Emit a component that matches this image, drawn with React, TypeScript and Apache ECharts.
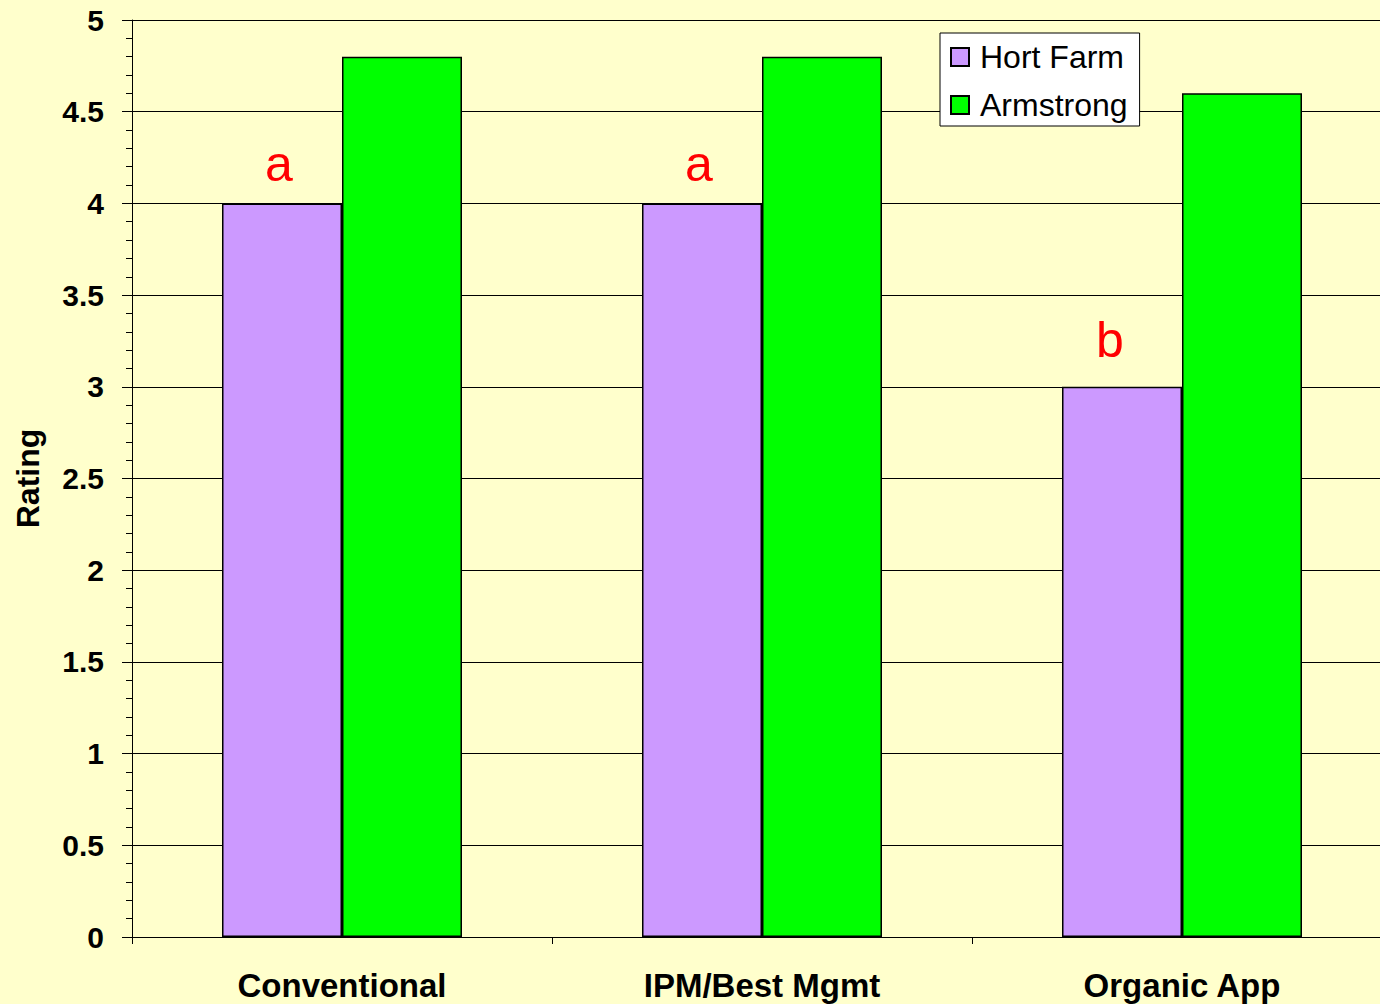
import React, { useEffect, useRef } from "react";
import * as echarts from "echarts";

const categories = ["Conventional", "IPM/Best Mgmt", "Organic App"];
const hortFarm = [4, 4, 3];
const armstrong = [4.8, 4.8, 4.6];
const hortLetters = ["a", "a", "b"];
const yTicks = [0, 0.5, 1, 1.5, 2, 2.5, 3, 3.5, 4, 4.5, 5];

const FONT = "'Liberation Sans', Arial, sans-serif";

export default function App() {
  const ref = useRef<HTMLDivElement>(null);
  useEffect(() => {
    document.body.style.margin = "0";
    const chart = echarts.init(ref.current!, null, { renderer: "svg" });
    chart.setOption({
      animation: false,
      backgroundColor: "#FFFFCC",
      textStyle: { fontFamily: FONT },
      grid: { left: 132, top: 20, bottom: 67, right: 0, containLabel: false },
      legend: {
        orient: "vertical",
        left: 940,
        top: 33,
        padding: [8, 12, 5, 10],
        itemGap: 16,
        itemWidth: 18,
        itemHeight: 18,
        icon: "rect",
        backgroundColor: "#FFFFFF",
        borderColor: "#000000",
        borderWidth: 1,
        textStyle: { fontSize: 32, color: "#000", fontFamily: FONT, padding: [0, 0, 0, 6] },
        data: ["Hort Farm", "Armstrong"],
      },
      xAxis: {
        type: "category",
        data: categories,
        axisLine: { show: true, lineStyle: { color: "#000", width: 1 } },
        axisTick: { show: true, length: 7, lineStyle: { color: "#000" } },
        axisLabel: {
          fontSize: 33,
          fontWeight: "bold",
          color: "#000",
          margin: 32,
          fontFamily: FONT,
        },
      },
      yAxis: {
        type: "value",
        min: yTicks[0],
        max: yTicks[yTicks.length - 1],
        interval: 0.5,
        name: "Rating",
        nameLocation: "middle",
        nameGap: 88,
        nameTextStyle: { fontSize: 32, fontWeight: "bold", color: "#000", fontFamily: FONT },
        axisLine: { show: true, lineStyle: { color: "#000", width: 1 } },
        axisTick: { show: true, length: 10, lineStyle: { color: "#000" } },
        minorTick: { show: true, splitNumber: 5, length: 6, lineStyle: { color: "#000" } },
        splitLine: { show: true, lineStyle: { color: "#000", width: 1 } },
        axisLabel: {
          fontSize: 30,
          fontWeight: "bold",
          color: "#000",
          margin: 28,
          fontFamily: FONT,
        },
      },
      series: [
        {
          name: "Hort Farm",
          type: "bar",
          data: hortFarm.map((v, i) => ({
            value: v,
            label:
              hortLetters[i] === "b"
                ? { distance: 22, offset: [-12, 0] }
                : { distance: 14, offset: [-3, 0] },
          })),
          barWidth: 120,
          barGap: "0%",
          itemStyle: { color: "#CC99FF", borderColor: "#000", borderWidth: 1.5 },
          label: {
            show: true,
            position: "top",
            fontSize: 50,
            color: "#FF0000",
            fontFamily: FONT,
            formatter: (p: any) => hortLetters[p.dataIndex],
          },
        },
        {
          name: "Armstrong",
          type: "bar",
          data: armstrong,
          barWidth: 120,
          barGap: "0%",
          itemStyle: { color: "#00FF00", borderColor: "#000", borderWidth: 1.5 },
        },
      ],
    });
    return () => chart.dispose();
  }, []);
  return (
    <div
      style={{ position: "fixed", left: 0, top: 0, width: 1380, height: 1004, overflow: "hidden" }}
    >
      <div ref={ref} style={{ width: 1392, height: 1004 }} />
    </div>
  );
}
